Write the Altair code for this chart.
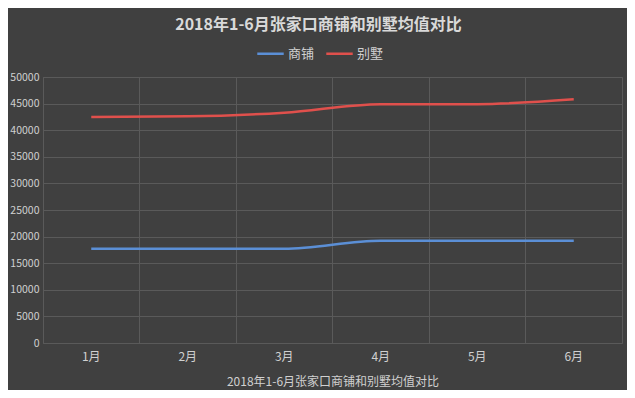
import altair as alt
import pandas as pd

months = ["1月", "2月", "3月", "4月", "5月", "6月"]
shop = [17700, 17700, 17700, 19200, 19200, 19200]
villa = [42500, 42600, 43300, 44900, 44900, 45800]
series_names = ["商铺", "别墅"]
colors = ["#5b8fd6", "#e0504c"]

rows = []
for m, a, b in zip(months, shop, villa):
    rows.append({"month": m, "series": series_names[0], "value": a})
    rows.append({"month": m, "series": series_names[1], "value": b})
df = pd.DataFrame(rows)

font = "Noto Sans CJK SC"

chart = alt.Chart(df).mark_line(strokeWidth=2.5, interpolate="monotone").encode(
    x=alt.X("month:N", sort=months,
            scale=alt.Scale(type="band", paddingInner=0, paddingOuter=0),
            axis=alt.Axis(title="2018年1-6月张家口商铺和别墅均值对比", labelAngle=0,
                          grid=True, gridColor="#5a5a5a", gridWidth=1,
                          bandPosition=0, domain=False, ticks=False,
                          labelColor="#d0d0d0", labelFontSize=12, labelFont=font,
                          labelPadding=8,
                          titleColor="#d0d0d0", titleFontSize=12, titleFont=font,
                          titleFontWeight="normal", titlePadding=14)),
    y=alt.Y("value:Q", scale=alt.Scale(domain=[0, 50000]),
            axis=alt.Axis(title=None, values=list(range(0, 50001, 5000)),
                          format="d", labelOverlap=False,
                          grid=True, gridColor="#5a5a5a", gridWidth=1,
                          domain=False, ticks=False,
                          labelColor="#d0d0d0", labelFontSize=10.5, labelFont=font,
                          labelPadding=4)),
    color=alt.Color("series:N", sort=series_names,
                    scale=alt.Scale(domain=series_names, range=colors),
                    legend=alt.Legend(title=None, orient="none", direction="horizontal",
                                      legendX=213, legendY=-38,
                                      symbolType="stroke", symbolSize=700,
                                      symbolStrokeWidth=2.5, columnPadding=6,
                                      labelColor="#d0d0d0", labelFontSize=13,
                                      labelFont=font, labelOffset=3)),
).properties(
    width=579,
    height=266,
    title=alt.TitleParams("2018年1-6月张家口商铺和别墅均值对比", fontSize=16,
                          font=font, fontWeight="bold", color="#d9d9d9",
                          anchor="middle", dx=-14, offset=6),
    background="#404040",
    padding={"left": 35, "top": 69, "right": 5, "bottom": 47},
    autosize=alt.AutoSizeParams(type="none"),
).configure_view(stroke="#5a5a5a", strokeWidth=1)

chart.save("out.html", embed_options={"renderer": "svg", "actions": False})
